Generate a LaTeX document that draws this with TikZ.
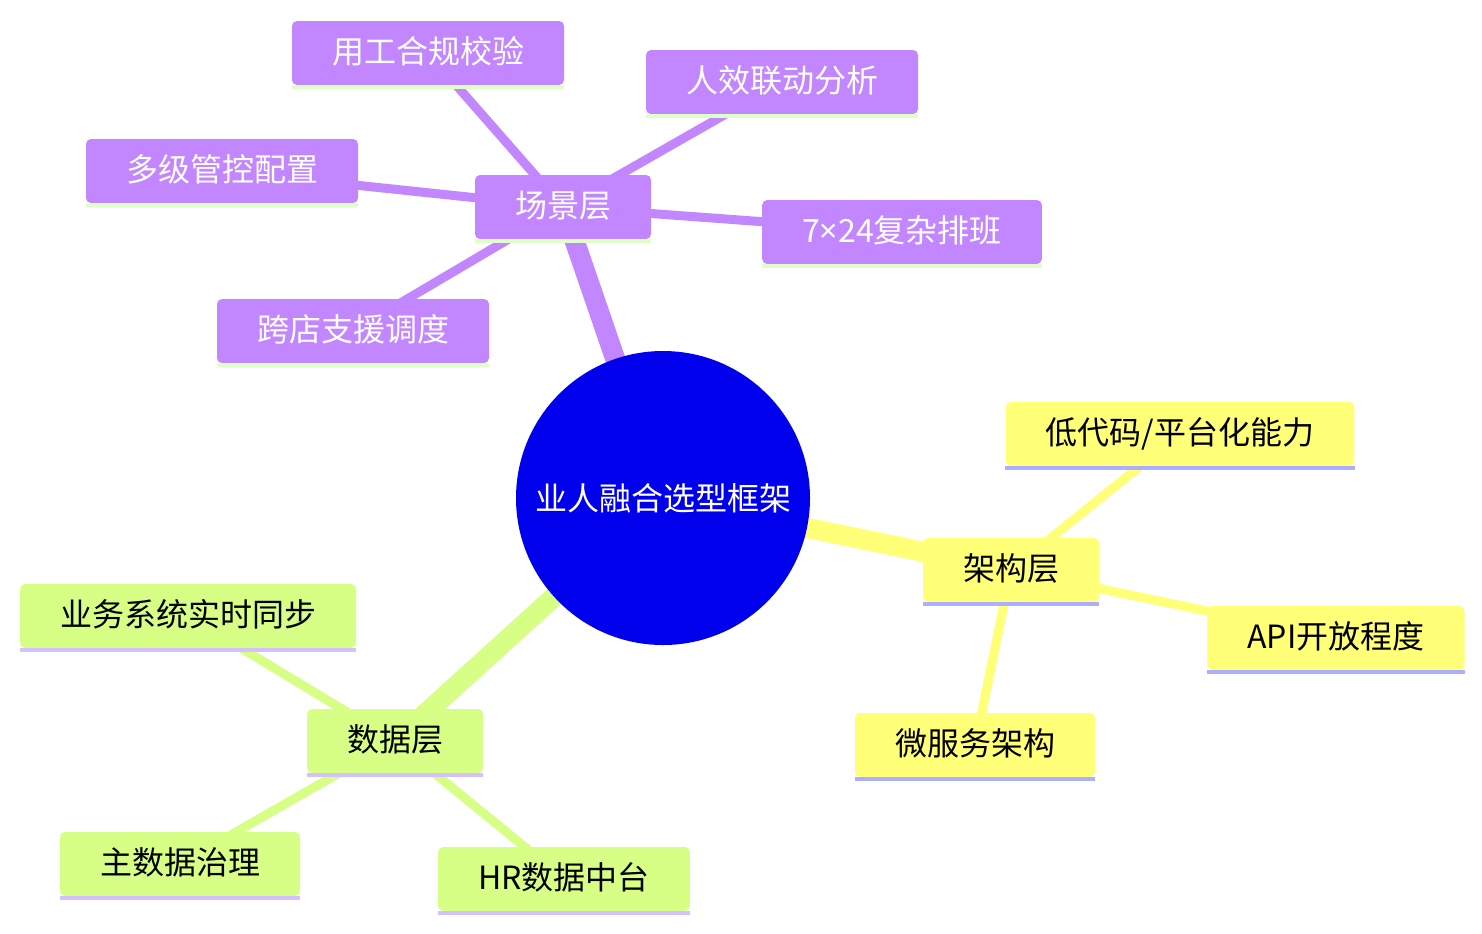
\documentclass[tikz,border=0pt]{standalone}
\usepackage{fontspec}
\setmainfont{Noto Sans CJK SC}
\newfontfamily\latinsign{Noto Sans}
\usetikzlibrary{backgrounds}
\definecolor{croot}{HTML}{0000EC}
\definecolor{cscene}{HTML}{C286FF}
\definecolor{carch}{HTML}{FFFF78}
\definecolor{cdata}{HTML}{D7FF86}
\definecolor{ulscene}{HTML}{DEFFC6}
\definecolor{ularch}{HTML}{AEAEFF}
\definecolor{uldata}{HTML}{D4C0FF}
\tikzset{
  root/.style={circle,fill=croot,text=white,minimum size=147pt,inner sep=0pt,font=\fontsize{16}{19}\selectfont},
  topic/.style={rounded corners=2.5pt,inner xsep=20pt,inner ysep=0pt,minimum height=32pt,
    text height=1em,text depth=0em,font=\fontsize{16}{19}\selectfont},
  uline/.style={append after command={([yshift=-1pt]\tikzlastnode.south west) edge[draw=#1,line width=2pt] ([yshift=-1pt]\tikzlastnode.south east)}},
  scenebox/.style={topic,fill=cscene,text=white,uline=ulscene},
  archbox/.style={topic,fill=carch,text=black,uline=ularch},
  databox/.style={topic,fill=cdata,text=black,uline=uldata},
  trunk/.style={line width=10pt},
  twig/.style={line width=4.5pt}
}
\begin{document}
\begin{tikzpicture}[x=0.5pt,y=-0.5pt]
  \useasboundingbox (0,0) rectangle (1482,933);
  \node[root] (root) at (663,498) {业人融合选型框架};
  % scene layer
  \node[scenebox] (scene) at (563,207) {场景层};
  \node[scenebox] (compliance) at (428,53) {用工合规校验};
  \node[scenebox] (linkage) at (782,82) {人效联动分析};
  \node[scenebox] (multilevel) at (222,171) {多级管控配置};
  \node[scenebox] (shift) at (902,232) {7{\latinsign ×}24复杂排班};
  \node[scenebox] (support) at (353,331) {跨店支援调度};
  % architecture layer
  \node[archbox] (arch) at (1011,570) {架构层};
  \node[archbox] (lowcode) at (1180,434) {低代码/平台化能力};
  \node[archbox] (api) at (1336,638) {API开放程度};
  \node[archbox] (micro) at (975,745) {微服务架构};
  % data layer
  \node[databox] (data) at (395,741) {数据层};
  \node[databox] (sync) at (188,616) {业务系统实时同步};
  \node[databox] (master) at (180,864) {主数据治理};
  \node[databox] (hrhub) at (564,879) {HR数据中台};
  \begin{pgfonlayer}{background}
    \draw[trunk,cscene] (root.center) -- (scene.center);
    \draw[trunk,carch] (root.center) -- (arch.center);
    \draw[trunk,cdata] (root.center) -- (data.center);
    \foreach \leaf in {compliance,linkage,multilevel,shift,support}
      \draw[twig,cscene] (scene.center) -- (\leaf.center);
    \foreach \leaf in {lowcode,api,micro}
      \draw[twig,carch] (arch.center) -- (\leaf.center);
    \foreach \leaf in {sync,master,hrhub}
      \draw[twig,cdata] (data.center) -- (\leaf.center);
  \end{pgfonlayer}
\end{tikzpicture}
\end{document}
